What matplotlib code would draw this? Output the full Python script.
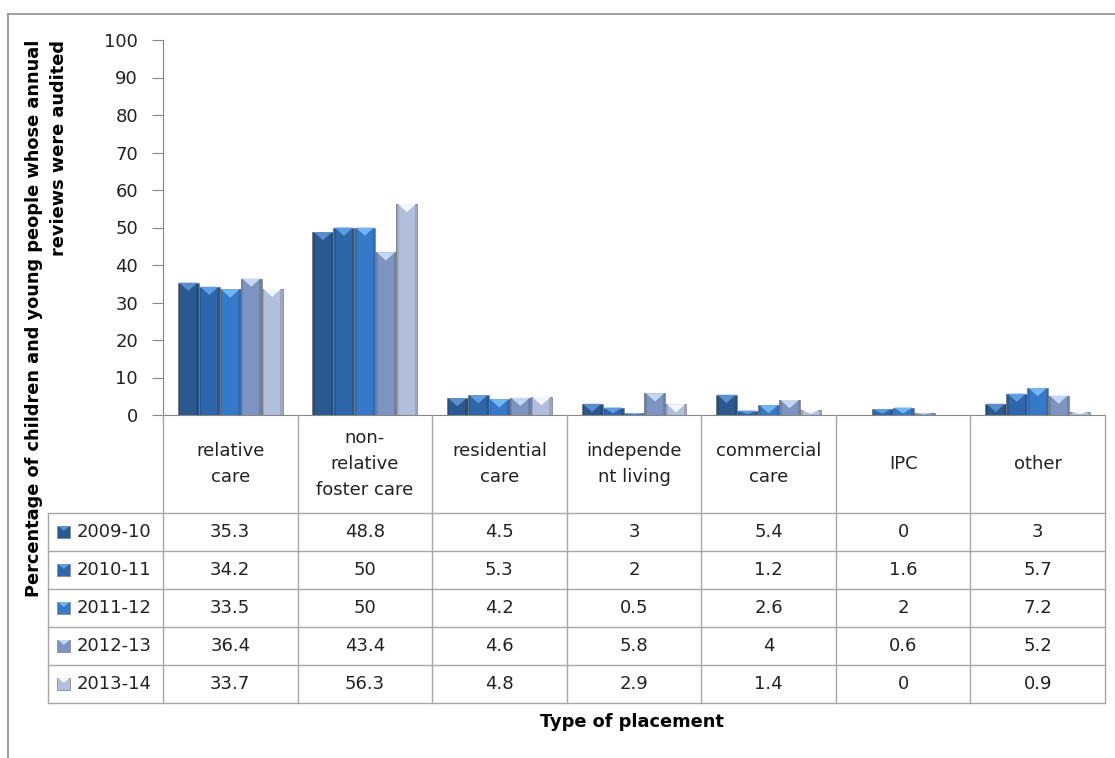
import matplotlib

matplotlib.use("Agg")
import matplotlib.pyplot as plt
from matplotlib.lines import Line2D
from matplotlib.patches import Polygon, Rectangle

categories = [
    "relative\ncare",
    "non-\nrelative\nfoster care",
    "residential\ncare",
    "independe\nnt living",
    "commercial\ncare",
    "IPC",
    "other",
]
years = ["2009-10", "2010-11", "2011-12", "2012-13", "2013-14"]
values_2009_10 = [35.3, 48.8, 4.5, 3, 5.4, 0, 3]
values_2010_11 = [34.2, 50, 5.3, 2, 1.2, 1.6, 5.7]
values_2011_12 = [33.5, 50, 4.2, 0.5, 2.6, 2, 7.2]
values_2012_13 = [36.4, 43.4, 4.6, 5.8, 4, 0.6, 5.2]
values_2013_14 = [33.7, 56.3, 4.8, 2.9, 1.4, 0, 0.9]
series = [values_2009_10, values_2010_11, values_2011_12, values_2012_13, values_2013_14]

bar_colours = ["#2a5990", "#2d66a9", "#3779c9", "#7d94c0", "#b1bfdc"]
cap_colours = ["#5b8fcc", "#5e9de2", "#72b6f2", "#c3d6f2", "#f2f6fd"]
grey = "#a6a6a6"

W, H = 1115, 758
fig = plt.figure(figsize=(W / 100, H / 100), dpi=100)

# chart frame
fig.add_artist(Line2D([8 / W, 8 / W], [0, 1 - 14 / H], color="#8c8c8c", lw=1.2))
fig.add_artist(Line2D([8 / W, 1], [1 - 14 / H, 1 - 14 / H], color="#8c8c8c", lw=1.2))

ax = fig.add_axes([163 / W, 1 - 415 / H, (1105 - 163) / W, (415 - 40) / H])
ax.set_xlim(0, len(categories))
ax.set_ylim(0, 100)
ax.set_yticks(range(0, 101, 10))
ax.set_xticks([])
for side in ("top", "right"):
    ax.spines[side].set_visible(False)
ax.spines["left"].set_color("#868686")
ax.spines["bottom"].set_color("#868686")
ax.tick_params(axis="y", direction="out", length=8, color="#868686",
               labelsize=13, pad=10, labelcolor="#222222")

bar_w = 0.156
for j, vals in enumerate(series):
    for i, v in enumerate(vals):
        if v <= 0:
            continue
        x0 = i + 0.5 + (j - 2.5) * bar_w
        ax.bar(x0, v, width=bar_w, align="edge", color=bar_colours[j],
               edgecolor="#8a8a8a", linewidth=0.6, zorder=2)
        # darker side shading for a rounded look
        ax.add_patch(Rectangle((x0, 0), bar_w * 0.12, v, color="#000000",
                               alpha=0.12, lw=0, zorder=3))
        ax.add_patch(Rectangle((x0 + bar_w * 0.88, 0), bar_w * 0.12, v,
                               color="#000000", alpha=0.12, lw=0, zorder=3))
        d = min(2.2, v * 0.8)
        ax.add_patch(Polygon([(x0 + 0.01, v), (x0 + bar_w - 0.01, v),
                              (x0 + bar_w / 2, v - d)], closed=True,
                             color=cap_colours[j], lw=0, zorder=4))

# data table under the plot
tab = fig.add_axes([48 / W, 1 - 703 / H, (1105 - 48) / W, (703 - 415) / H])
leg_w = (163 - 48) / ((1105 - 163) / len(categories))
head_h, row_h = 98, 38
total_h = head_h + row_h * len(years)
tab.set_xlim(-leg_w, len(categories))
tab.set_ylim(total_h, 0)
tab.axis("off")

for k in range(len(years) + 1):
    y = head_h + k * row_h
    tab.plot([-leg_w, len(categories)], [y, y], color=grey, lw=1, clip_on=False)
for i in range(len(categories) + 1):
    tab.plot([i, i], [0, total_h], color=grey, lw=1, clip_on=False)
tab.plot([-leg_w, -leg_w], [head_h, total_h], color=grey, lw=1, clip_on=False)

for i, name in enumerate(categories):
    tab.text(i + 0.5, head_h / 2, name, ha="center", va="center", fontsize=13,
             linespacing=1.55, color="#222222")

for j, (year, vals) in enumerate(zip(years, series)):
    yc = head_h + (j + 0.5) * row_h
    tab.add_patch(Rectangle((-leg_w + 0.07, yc - 6), 0.095, 12,
                            facecolor=bar_colours[j], edgecolor="#8a8a8a",
                            lw=0.6, clip_on=False))
    tab.add_patch(Polygon([(-leg_w + 0.075, yc - 6), (-leg_w + 0.16, yc - 6),
                           (-leg_w + 0.1175, yc - 1)], closed=True,
                          color=cap_colours[j], lw=0, clip_on=False))
    tab.text(-leg_w + 0.21, yc, year, ha="left", va="center", fontsize=13,
             color="#222222")
    for i, v in enumerate(vals):
        tab.text(i + 0.5, yc, f"{v:g}", ha="center", va="center", fontsize=13,
                 color="#222222")

fig.text(47 / W, 1 - 40 / H,
         "Percentage of children and young people whose annual\nreviews were audited",
         rotation=90, ha="center", va="top", multialignment="right",
         fontsize=12.8, fontweight="bold", linespacing=1.5)
fig.text(632 / W, 1 - 722 / H, "Type of placement", ha="center", va="center",
         fontsize=12.8, fontweight="bold")

fig.savefig("out.png", dpi=100)
